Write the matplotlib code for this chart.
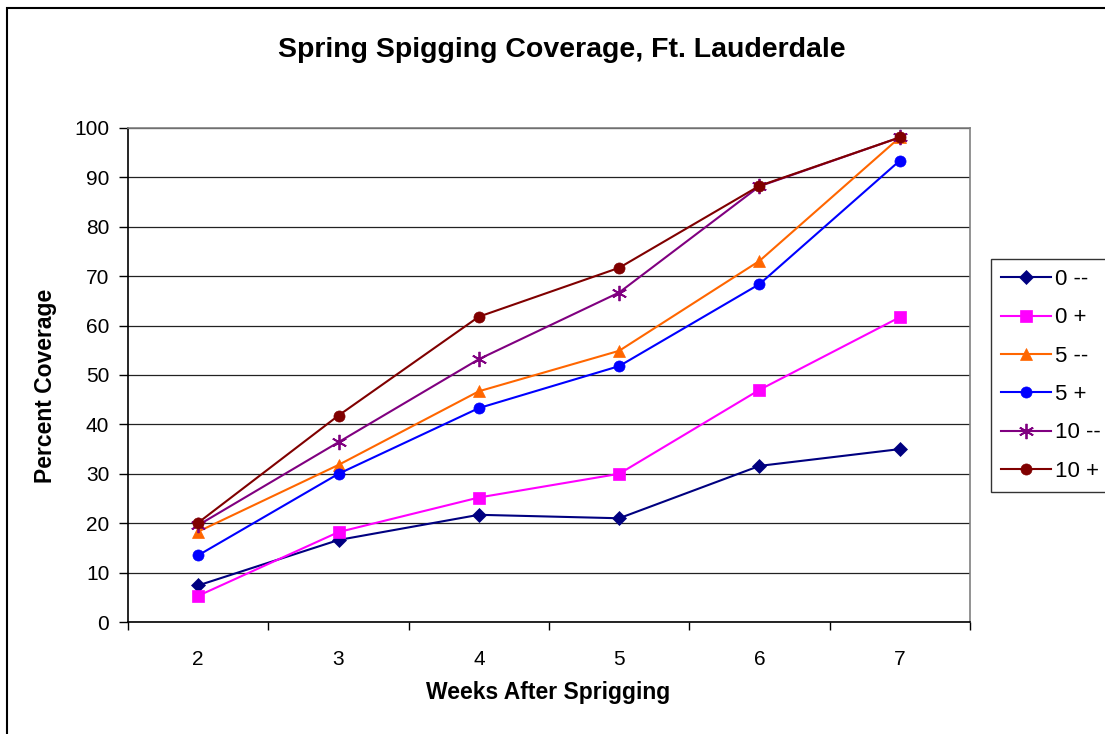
import numpy as np
import matplotlib.pyplot as plt
from matplotlib.patches import Rectangle

plt.rcParams['font.family'] = ['Liberation Sans', 'DejaVu Sans']

# weeks after sprigging
weeks = ['2', '3', '4', '5', '6', '7']

# percent coverage per treatment
cov_0_minus = [7.4, 16.6, 21.7, 21.0, 31.6, 35.0]
cov_0_plus = [5.3, 18.2, 25.2, 30.0, 47.0, 61.7]
cov_5_minus = [18.3, 31.8, 46.7, 54.9, 73.1, 98.1]
cov_5_plus = [13.5, 30.0, 43.3, 51.8, 68.4, 93.4]
cov_10_minus = [19.6, 36.4, 53.2, 66.7, 88.2, 98.1]
cov_10_plus = [20.1, 41.8, 61.8, 71.7, 88.3, 98.1]

series_names = ['0 --', '0 +', '5 --', '5 +', '10 --', '10 +']

fig = plt.figure(figsize=(11.05, 7.34), dpi=100)
W, H = 1105, 734
ax = fig.add_axes([128 / W, 1 - 622 / H, (970 - 128) / W, (622 - 128) / H])

x = np.arange(len(weeks))
styles = [
    (cov_0_minus, '#000080', 'D', 7),
    (cov_0_plus, '#FF00FF', 's', 8),
    (cov_5_minus, '#FF6600', '^', 9),
    (cov_5_plus, '#0000FF', 'o', 8),
    (cov_10_minus, '#800080', (6, 2, 0), 11),
    (cov_10_plus, '#800000', 'o', 8),
]
for (vals, col, mk, ms), name in zip(styles, series_names):
    ax.plot(x, vals, color=col, marker=mk, markersize=ms, linewidth=1.5,
            markeredgewidth=1.3 if mk == (6, 2, 0) else 0.5, label=name, zorder=3)

ax.set_xlim(-0.5, 5.5)
ax.set_ylim(0, 100)
ax.set_yticks(np.arange(0, 101, 10))
ax.yaxis.grid(True, color='#222222', linewidth=0.9)
ax.set_axisbelow(True)
ax.set_xticks(x)
ax.set_xticklabels(weeks)
ax.set_xticks(np.arange(-0.5, 6, 1), minor=True)
ax.tick_params(axis='x', which='major', length=0, pad=20, labelsize=15)
ax.tick_params(axis='x', which='minor', length=6, width=1, direction='out')
ax.tick_params(axis='y', length=6.5, width=1, direction='out', labelsize=15, pad=7)

for s in ['top', 'right']:
    ax.spines[s].set_color('#808080')
    ax.spines[s].set_linewidth(1.2)
for s in ['left', 'bottom']:
    ax.spines[s].set_color('black')
    ax.spines[s].set_linewidth(1.2)

fig.text(562 / W, 1 - 50 / H, 'Spring Spigging Coverage, Ft. Lauderdale',
         ha='center', va='center', fontsize=20.5, fontweight='bold')
fig.text(548 / W, 1 - 693 / H, 'Weeks After Sprigging',
         ha='center', va='center', fontsize=16.5, fontweight='bold')
fig.text(46 / W, 1 - 386 / H, 'Percent Coverage', ha='center', va='center',
         rotation=90, fontsize=16.5, fontweight='bold')

leg = fig.legend(loc='upper left', bbox_to_anchor=(991 / W, 1 - 259 / H),
                 fontsize=16, frameon=True, fancybox=False, edgecolor='black',
                 borderpad=0.45, labelspacing=0.78, handlelength=2.25, handletextpad=0.2,
                 borderaxespad=0)
leg.get_frame().set_linewidth(1.0)

fig.patches.append(Rectangle((7 / W, -0.1), 1.2, 1 - 8 / H + 0.1,
                             transform=fig.transFigure, fill=False,
                             edgecolor='black', linewidth=1.5))

fig.savefig('out.png', dpi=100)
